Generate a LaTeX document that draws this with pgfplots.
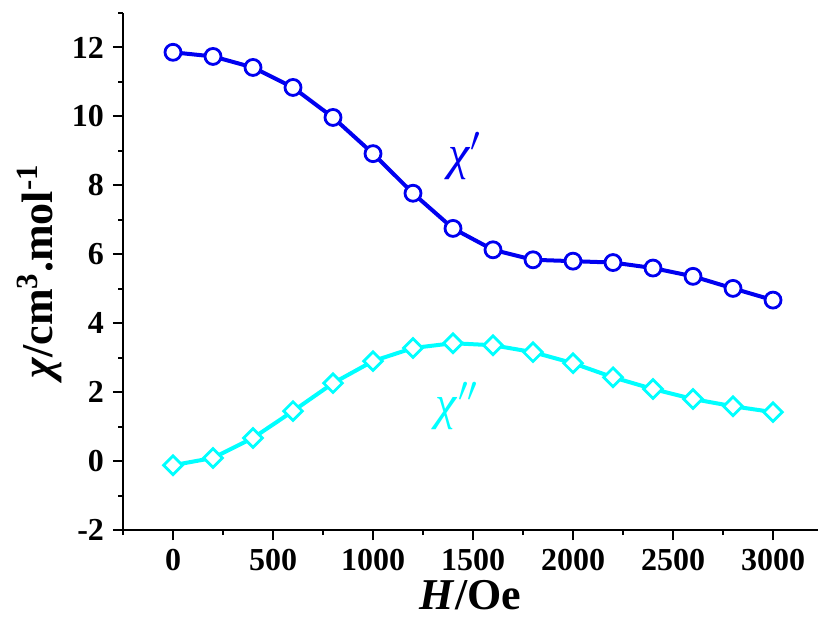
\documentclass[border=0pt]{standalone}
\usepackage{fontspec}
\setmainfont{Liberation Serif}
\usepackage{pgfplots}
\pgfplotsset{compat=1.18}
\definecolor{cblue}{RGB}{0,0,240}
\definecolor{ccyan}{RGB}{0,255,255}
\begin{document}
\begin{tikzpicture}
\begin{axis}[
  scale only axis,
  width=347.5pt, height=258.5pt,
  xmin=-250, xmax=3225, ymin=-2, ymax=13,
  axis x line*=bottom, axis y line*=left,
  axis line style={line width=1pt,-},
  every tick/.style={black,line width=1pt},
  tick align=outside,
  major tick length=5pt, minor tick length=2.5pt,
  xtick={0,500,...,3000}, minor xtick={-250,250,750,...,2750},
  ytick={-2,0,...,12}, minor ytick={-1,1,...,13},
  /pgf/number format/assume math mode=true,
  /pgf/number format/1000 sep={},
  ticklabel style={font=\fontsize{16}{16}\selectfont\bfseries},
  xticklabel style={yshift=-1pt},
  yticklabel style={xshift=-1pt},
  xlabel={\textbf{\textit{H}/Oe}},
  ylabel={\textbf{\textit{χ}/cm\textsuperscript{3}.mol\textsuperscript{-1}}},
  label style={font=\fontsize{22}{22}\selectfont},
  xlabel style={yshift=2pt},
  ylabel style={yshift=-2pt},
  clip=false,
]
\addplot[cblue, line width=2pt, mark=*, mark size=4pt,
  mark options={line width=1.4pt, fill=white, solid}] coordinates {
(0,11.86) (200,11.74) (400,11.42) (600,10.84) (800,9.97) (1000,8.92)
(1200,7.77) (1400,6.75) (1600,6.13) (1800,5.84) (2000,5.80) (2200,5.76)
(2400,5.60) (2600,5.36) (2800,5.01) (3000,4.67)};
\addplot[ccyan, line width=2pt, mark=square*, mark size=3.3pt,
  mark options={line width=1.4pt, fill=white, rotate=45, solid}] coordinates {
(0,-0.12) (200,0.09) (400,0.67) (600,1.45) (800,2.26) (1000,2.90)
(1200,3.28) (1400,3.42) (1600,3.36) (1800,3.16) (2000,2.84) (2200,2.43)
(2400,2.09) (2600,1.80) (2800,1.59) (3000,1.42)};
\node[cblue, font=\fontsize{24}{24}\selectfont] at (axis cs:1460,8.85) {\textit{χ}$'$};
\node[ccyan, font=\fontsize{24}{24}\selectfont] at (axis cs:1420,1.6) {\textit{χ}$''$};
\coordinate (O) at (rel axis cs:0,0);
\coordinate (T) at (rel axis cs:1,1);
\end{axis}
\pgfresetboundingbox
\path ([shift={(-61.5pt,-43.5pt)}]O) rectangle ([shift={(0pt,6.5pt)}]T);
\end{tikzpicture}
\end{document}
